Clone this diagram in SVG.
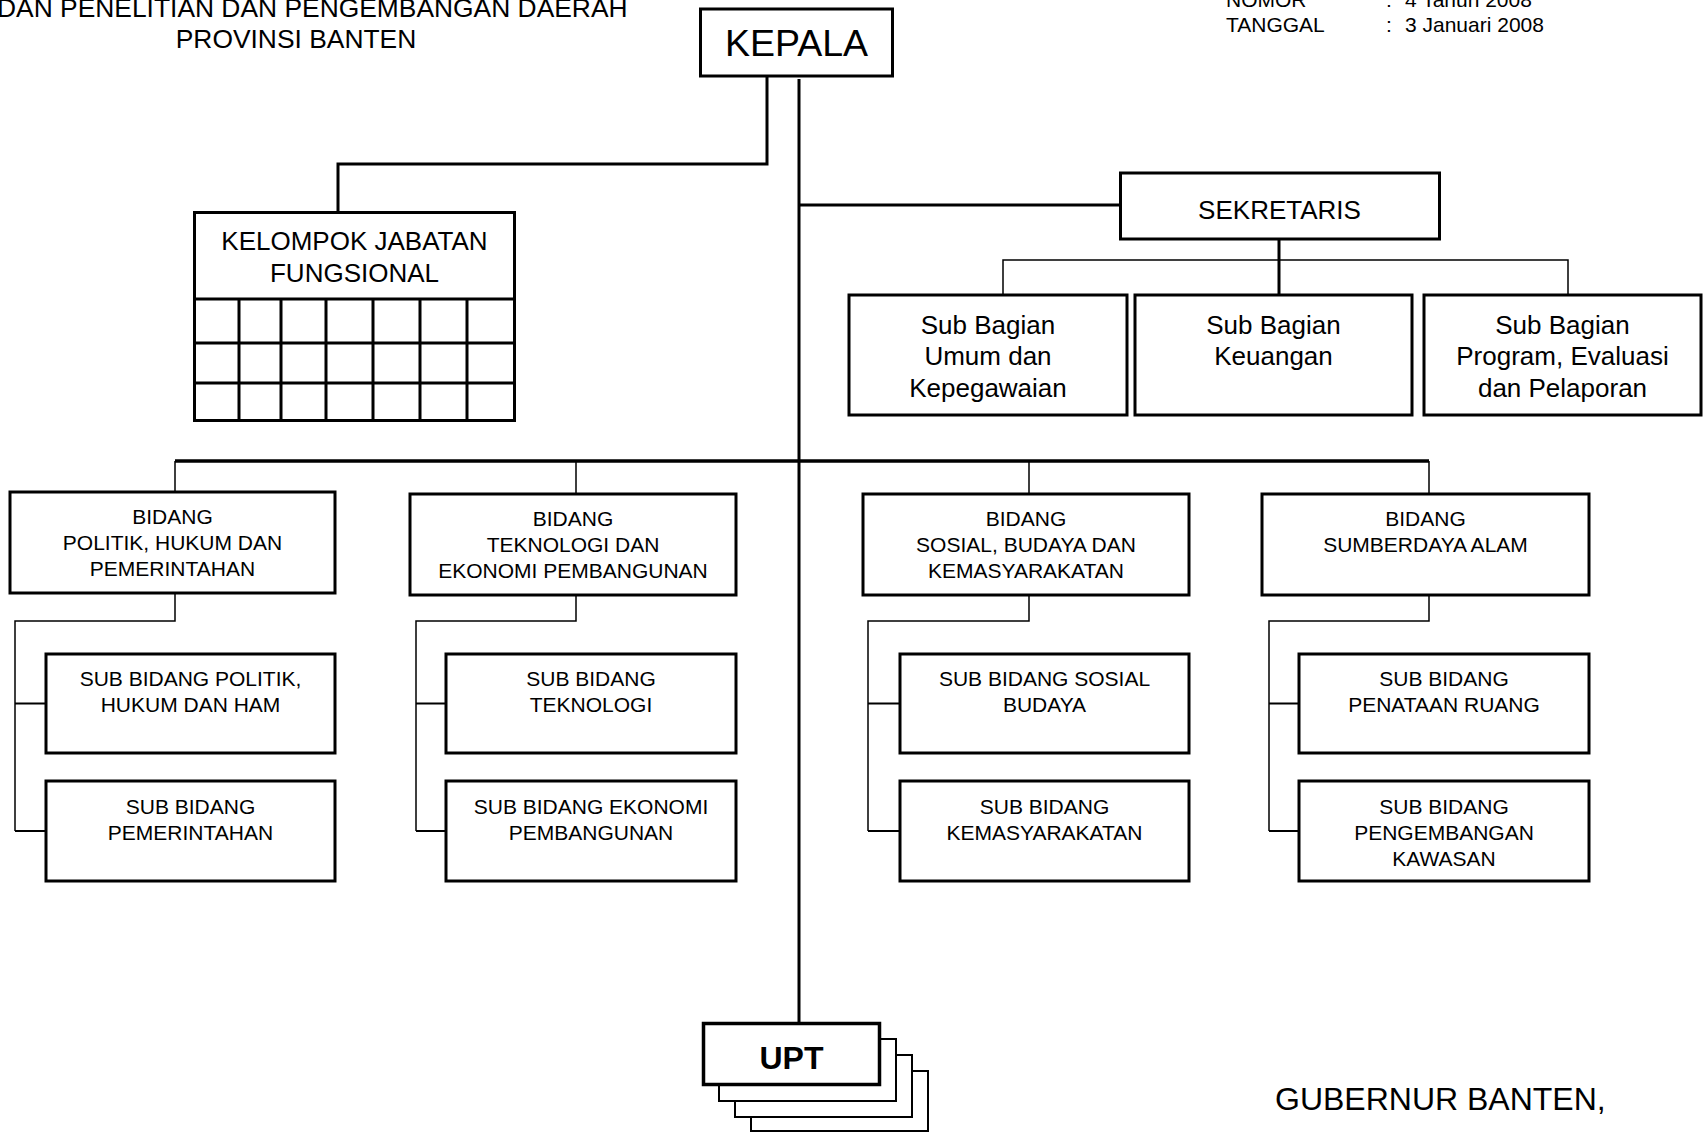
<svg xmlns="http://www.w3.org/2000/svg" width="1706" height="1132" viewBox="0 0 1706 1132">
  <style>
    text { font-family: "Liberation Sans", Arial, sans-serif; fill: #000; }
    .box { fill: #fff; stroke: #000; stroke-width: 3; }
    .back { fill: #fff; stroke: #000; stroke-width: 2; }
    .grid { fill: none; stroke: #000; stroke-width: 3; }
    .thick { fill: none; stroke: #000; stroke-width: 3; }
    .bar { fill: none; stroke: #000; stroke-width: 3.5; }
    .thin { fill: none; stroke: #000; stroke-width: 1.5; }
    .stub { fill: none; stroke: #000; stroke-width: 2; }
    .c { text-anchor: middle; }
    .f26 { font-size: 26px; }
    .f21 { font-size: 21px; }
  </style>
  <rect width="1706" height="1132" fill="#fff"/>

  <!-- header -->
  <g id="header">
    <text x="-3" y="17" style="font-size:26.4px">DAN PENELITIAN DAN PENGEMBANGAN DAERAH</text>
    <text x="296" y="48" class="c" style="font-size:26.4px">PROVINSI BANTEN</text>
    <text x="1226" y="7" class="f21">NOMOR</text>
    <text x="1386" y="7" class="f21">:</text>
    <text x="1405" y="7" class="f21">4 Tahun 2008</text>
    <text x="1226" y="31.5" class="f21">TANGGAL</text>
    <text x="1386" y="31.5" class="f21">:</text>
    <text x="1405" y="31.5" class="f21">3 Januari 2008</text>
  </g>

  <!-- connectors -->
  <g id="connectors">
    <path class="thick" d="M767,77 V164 H338 V212"/>
    <path class="thick" d="M799,79 V1023"/>
    <path class="thick" d="M799,205 H1120"/>
    <path class="thick" d="M1279,239 V295"/>
    <path class="thin" d="M1003,295 V260 H1568 V295"/>
    <path class="bar" d="M175,461 H1429"/>
    <path class="thin" d="M175,461 V492 M576,461 V494 M1029,461 V494 M1429,461 V494"/>
    <path class="thin" d="M175,593 V621 H15 V831"/>
    <path class="stub" d="M15,703.5 H46 M15,831 H46"/>
    <path class="thin" d="M576,595 V621 H416 V831"/>
    <path class="stub" d="M416,703.5 H446 M416,831 H446"/>
    <path class="thin" d="M1029,595 V621 H868 V831"/>
    <path class="stub" d="M868,703.5 H900 M868,831 H900"/>
    <path class="thin" d="M1429,595 V621 H1269 V831"/>
    <path class="stub" d="M1269,703.5 H1299 M1269,831 H1299"/>
  </g>

  <g id="kepala">
    <rect class="box" x="700.5" y="9" width="192" height="67"/>
    <text x="796.5" y="55.5" class="c" style="font-size:37.5px">KEPALA</text>
  </g>

  <g id="kelompok-jabatan-fungsional">
    <rect class="box" x="194.5" y="212.5" width="320" height="208"/>
    <path class="grid" d="M194.5,299 H514.5 M194.5,343 H514.5 M194.5,383 H514.5 M239,299 V420.5 M281,299 V420.5 M326,299 V420.5 M373,299 V420.5 M420,299 V420.5 M467,299 V420.5"/>
    <text x="354.5" y="250" class="c f26">KELOMPOK JABATAN</text>
    <text x="354.5" y="282" class="c f26">FUNGSIONAL</text>
  </g>

  <g id="sekretaris">
    <rect class="box" x="1120.5" y="173" width="319" height="66"/>
    <text x="1279.5" y="219" class="c f26">SEKRETARIS</text>
  </g>

  <g id="subbag-umum">
    <rect class="box" x="849" y="295" width="278" height="120"/>
    <text x="988" y="333.5" class="c f26">Sub Bagian</text>
    <text x="988" y="365" class="c f26">Umum dan</text>
    <text x="988" y="396.5" class="c f26">Kepegawaian</text>
  </g>
  <g id="subbag-keuangan">
    <rect class="box" x="1135" y="295" width="277" height="120"/>
    <text x="1273.5" y="333.5" class="c f26">Sub Bagian</text>
    <text x="1273.5" y="365" class="c f26">Keuangan</text>
  </g>
  <g id="subbag-program">
    <rect class="box" x="1424" y="295" width="277" height="120"/>
    <text x="1562.5" y="333.5" class="c f26">Sub Bagian</text>
    <text x="1562.5" y="365" class="c f26">Program, Evaluasi</text>
    <text x="1562.5" y="396.5" class="c f26">dan Pelaporan</text>
  </g>

  <g id="bidang-politik">
    <rect class="box" x="10" y="492" width="325" height="101"/>
    <text x="172.5" y="523.5" class="c f21">BIDANG</text>
    <text x="172.5" y="549.5" class="c f21">POLITIK, HUKUM DAN</text>
    <text x="172.5" y="575.5" class="c f21">PEMERINTAHAN</text>
  </g>
  <g id="bidang-teknologi">
    <rect class="box" x="410" y="494" width="326" height="101"/>
    <text x="573" y="525.5" class="c f21">BIDANG</text>
    <text x="573" y="551.5" class="c f21">TEKNOLOGI DAN</text>
    <text x="573" y="577.5" class="c f21">EKONOMI PEMBANGUNAN</text>
  </g>
  <g id="bidang-sosial">
    <rect class="box" x="863" y="494" width="326" height="101"/>
    <text x="1026" y="525.5" class="c f21">BIDANG</text>
    <text x="1026" y="551.5" class="c f21">SOSIAL, BUDAYA DAN</text>
    <text x="1026" y="577.5" class="c f21">KEMASYARAKATAN</text>
  </g>
  <g id="bidang-sda">
    <rect class="box" x="1262" y="494" width="327" height="101"/>
    <text x="1425.5" y="525.5" class="c f21">BIDANG</text>
    <text x="1425.5" y="551.5" class="c f21">SUMBERDAYA ALAM</text>
  </g>

  <g id="subbid-politik">
    <rect class="box" x="46" y="654" width="289" height="99"/>
    <text x="190.5" y="685.5" class="c f21">SUB BIDANG POLITIK,</text>
    <text x="190.5" y="711.5" class="c f21">HUKUM DAN HAM</text>
  </g>
  <g id="subbid-pemerintahan">
    <rect class="box" x="46" y="781" width="289" height="100"/>
    <text x="190.5" y="813.5" class="c f21">SUB BIDANG</text>
    <text x="190.5" y="839.5" class="c f21">PEMERINTAHAN</text>
  </g>
  <g id="subbid-teknologi">
    <rect class="box" x="446" y="654" width="290" height="99"/>
    <text x="591" y="685.5" class="c f21">SUB BIDANG</text>
    <text x="591" y="711.5" class="c f21">TEKNOLOGI</text>
  </g>
  <g id="subbid-ekonomi">
    <rect class="box" x="446" y="781" width="290" height="100"/>
    <text x="591" y="813.5" class="c f21">SUB BIDANG EKONOMI</text>
    <text x="591" y="839.5" class="c f21">PEMBANGUNAN</text>
  </g>
  <g id="subbid-sosial">
    <rect class="box" x="900" y="654" width="289" height="99"/>
    <text x="1044.5" y="685.5" class="c f21">SUB BIDANG SOSIAL</text>
    <text x="1044.5" y="711.5" class="c f21">BUDAYA</text>
  </g>
  <g id="subbid-kemasyarakatan">
    <rect class="box" x="900" y="781" width="289" height="100"/>
    <text x="1044.5" y="813.5" class="c f21">SUB BIDANG</text>
    <text x="1044.5" y="839.5" class="c f21">KEMASYARAKATAN</text>
  </g>
  <g id="subbid-ruang">
    <rect class="box" x="1299" y="654" width="290" height="99"/>
    <text x="1444" y="685.5" class="c f21">SUB BIDANG</text>
    <text x="1444" y="711.5" class="c f21">PENATAAN RUANG</text>
  </g>
  <g id="subbid-kawasan">
    <rect class="box" x="1299" y="781" width="290" height="100"/>
    <text x="1444" y="813.5" class="c f21">SUB BIDANG</text>
    <text x="1444" y="839.5" class="c f21">PENGEMBANGAN</text>
    <text x="1444" y="865.5" class="c f21">KAWASAN</text>
  </g>

  <g id="upt">
    <rect class="back" x="751" y="1071" width="177" height="60"/>
    <rect class="back" x="735" y="1055" width="177" height="62"/>
    <rect class="back" x="719" y="1039" width="177" height="62"/>
    <rect class="box" x="703.5" y="1023.5" width="176" height="61" style="stroke-width:3.5"/>
    <text x="791.5" y="1069" class="c" style="font-size:32px;font-weight:bold">UPT</text>
  </g>

  <g id="signature">
    <text x="1275" y="1110" style="font-size:32px">GUBERNUR BANTEN,</text>
  </g>
</svg>
